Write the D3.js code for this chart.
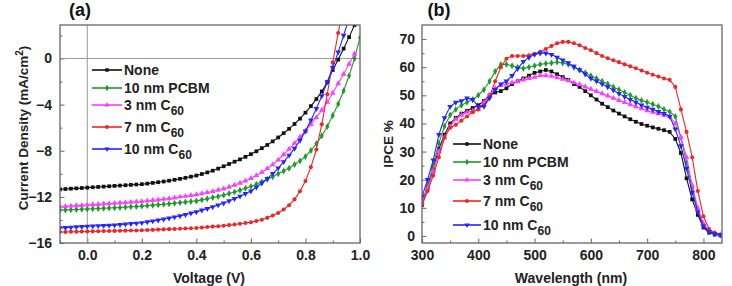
<!DOCTYPE html>
<html>
<head>
<meta charset="utf-8">
<script src="https://cdn.jsdelivr.net/npm/d3@7"></script>
<style>
    html, body { margin: 0; padding: 0; background: #fff; }
    #chart { width: 732px; height: 286px; }
</style>
</head>
<body>
<div id="chart"></div>
<script>
// ---- DATA ----

// Panel (a): J-V curves
const voltage = [-0.10,-0.08,-0.06,-0.04,-0.02,0.00,0.02,0.04,0.06,0.08,
    0.10,0.12,0.14,0.16,0.18,0.20,0.22,0.24,0.26,0.28,
    0.30,0.32,0.34,0.36,0.38,0.40,0.42,0.44,0.46,0.48,
    0.50,0.52,0.54,0.56,0.58,0.60,0.62,0.64,0.66,0.68,
    0.70,0.72,0.74,0.76,0.78,0.80,0.82,0.84,0.86,0.88,
    0.90,0.92,0.94,0.96,0.98,1.00];

const jNone = [-11.35,-11.32,-11.29,-11.26,-11.23,-11.20,-11.17,-11.14,-11.11,-11.08,
    -11.05,-11.02,-10.99,-10.96,-10.93,-10.90,-10.85,-10.79,-10.73,-10.67,
    -10.60,-10.52,-10.44,-10.35,-10.25,-10.15,-10.02,-9.88,-9.73,-9.55,
    -9.35,-9.15,-8.95,-8.75,-8.53,-8.30,-8.05,-7.78,-7.50,-7.19,
    -6.85,-6.48,-6.10,-5.68,-5.22,-4.70,-4.13,-3.52,-2.86,-2.05,
    -1.00,-0.10,0.85,1.85,2.90,3.90];

const jPCBM = [-13.15,-13.13,-13.11,-13.09,-13.07,-13.05,-13.03,-13.01,-12.99,-12.97,
    -12.95,-12.92,-12.89,-12.86,-12.83,-12.80,-12.76,-12.72,-12.68,-12.64,
    -12.60,-12.55,-12.50,-12.45,-12.40,-12.35,-12.26,-12.16,-12.06,-11.96,
    -11.85,-11.71,-11.57,-11.42,-11.26,-11.10,-10.90,-10.70,-10.48,-10.25,
    -10.00,-9.76,-9.52,-9.20,-8.88,-8.50,-7.98,-7.40,-6.70,-5.90,
    -4.95,-3.95,-2.80,-1.50,0.00,1.80];

const j3nm = [-12.85,-12.82,-12.79,-12.76,-12.73,-12.70,-12.67,-12.64,-12.61,-12.58,
    -12.55,-12.52,-12.49,-12.46,-12.43,-12.40,-12.35,-12.30,-12.25,-12.20,
    -12.15,-12.08,-12.01,-11.94,-11.87,-11.80,-11.71,-11.62,-11.52,-11.41,
    -11.30,-11.15,-10.98,-10.80,-10.61,-10.40,-10.14,-9.86,-9.55,-9.20,
    -8.80,-8.34,-7.86,-7.35,-6.82,-6.30,-5.72,-5.12,-4.48,-3.78,
    -3.00,-2.18,-1.35,-0.48,0.40];

const j7nm = [-15.05,-15.04,-15.03,-15.02,-15.01,-15.00,-14.99,-14.98,-14.97,-14.96,
    -14.95,-14.94,-14.93,-14.92,-14.91,-14.90,-14.88,-14.86,-14.84,-14.82,
    -14.80,-14.78,-14.76,-14.74,-14.72,-14.70,-14.66,-14.62,-14.58,-14.54,
    -14.50,-14.45,-14.39,-14.33,-14.27,-14.20,-14.10,-13.98,-13.82,-13.62,
    -13.40,-13.10,-12.72,-12.22,-11.52,-10.62,-9.42,-7.90,-5.70,-3.10,
    -0.35,2.20,4.60];

const j10nm = [-14.70,-14.67,-14.64,-14.61,-14.58,-14.55,-14.53,-14.51,-14.49,-14.47,
    -14.45,-14.41,-14.37,-14.33,-14.29,-14.25,-14.18,-14.10,-14.02,-13.94,
    -13.85,-13.75,-13.65,-13.54,-13.42,-13.30,-13.16,-13.02,-12.87,-12.71,
    -12.55,-12.36,-12.16,-11.95,-11.73,-11.50,-11.17,-10.82,-10.42,-9.98,
    -9.50,-8.96,-8.40,-7.80,-7.10,-6.30,-5.35,-4.35,-3.25,-2.05,
    -0.80,0.55,2.00,3.50];

// Panel (b): IPCE spectra
const wavelength = [300,310,320,330,340,350,360,370,380,390,
    400,410,420,430,440,450,460,470,480,490,
    500,510,520,530,540,550,560,570,580,590,
    600,610,620,630,640,650,660,670,680,690,
    700,710,720,730,740,750,760,770,780,790,
    800,810,820,830];

const ipceNone = [11,17,24,31,36,40,42,43.5,44.5,45.5,
    46.5,48,50,51,51.5,52.5,54,55,56,57,
    58,58.5,59,58.5,57.5,56.5,55.5,54,53,51.5,
    50,48.5,47,45.8,44.6,43.5,42.5,41.5,40.6,39.8,
    39.2,38.6,38.1,37.6,37,34.5,29.5,20.5,13,7.5,
    3,1.2,0.5,0.2];

const ipcePCBM = [12,18,25,33,39,43,45,46.5,47.5,48.5,
    50,52,55,58.5,61,61,60.5,60,59.5,60,
    60.5,61,61.3,61.5,61.8,61.5,61,60,59,58,
    57,56,55,54,53,52,51,50,49,48.2,
    47.5,46.8,46,45,44.2,42.5,35,26,17,9,
    4,1.5,0.8,0.3];

const ipce3nm = [12,17,23,30,35,39,41.5,43,44,44.5,
    45,47.5,50,52.5,53.5,54,54.5,55,55.5,56,
    56.5,57,57,56.8,56.3,55.8,55.2,54.5,53.8,53,
    52.2,51.4,50.6,49.8,49,48.2,47.5,46.7,46,45.3,
    44.6,44,43.5,43,42.5,40,35,28,18,10,
    4.5,2,1,0.5];

const ipce7nm = [11,16,21.5,28,35,38.5,39.5,41,42.5,44,
    45,46.5,49.5,55,60,63,64,64,64,64.2,
    64.8,65.5,66.5,67.5,68.5,69,69,68.5,67.8,66.8,
    66,65,64,63.2,62.5,61.8,61,60.3,59.6,58.8,
    58,57.3,56.7,56,55.5,53,45,37,28,16,
    7,2.5,1,0.3];

const ipce10nm = [14,20,27,36,42,46,47.5,48,49,48.5,
    46,46,49,52,54,55,57,59.5,62,63.5,
    64.5,65,65,64.5,63.5,62.5,61.5,60.3,59,57.5,
    56,55,54,53,51.8,50.6,49.5,48.5,47.5,46.5,
    45.7,45,44.2,43.5,42.5,38,32,24,15.5,8.5,
    3.5,1.5,0.8,0.5];

// legend labels (main text + subscript)
const seriesNames = ["None", "10 nm PCBM", "3 nm C", "7 nm C", "10 nm C"];
const seriesSubs = ["", "", "60", "60", "60"];

// tick values
const jvTicksX = [0.0, 0.2, 0.4, 0.6, 0.8, 1.0];
const jvTicksY = [-16, -12, -8, -4, 0];
const ipceTicksX = [300, 400, 500, 600, 700, 800];
const ipceTicksY = [0, 10, 20, 30, 40, 50, 60, 70];

// ---- STYLES ----
const colors = ["#111111", "#1f9a2a", "#ff3cff", "#f02525", "#2424ff"];
const shapes = [d3.symbolSquare, d3.symbolDiamond, d3.symbolTriangle, d3.symbolCircle, d3.symbolTriangle];
const shapeRot = [0, 0, 0, 0, 180];
const FONT = "Arial, 'Liberation Sans', sans-serif";

const drawChart = () => {
    const svg = d3.select("#chart").append("svg")
        .attr("width", 732)
        .attr("height", 286)
        .style("font-family", FONT)
        .style("font-weight", "bold");

    // 1. Generic panel builder
    const panel = (opt) => {
        const x = d3.scaleLinear().domain(opt.xDomain).range([opt.left, opt.right]);
        const y = d3.scaleLinear().domain(opt.yDomain).range([opt.bottom, opt.top]);
        const g = svg.append("g");

        const clipId = "clip-" + opt.id;
        svg.append("clipPath").attr("id", clipId)
            .append("rect")
            .attr("x", opt.left).attr("y", opt.top)
            .attr("width", opt.right - opt.left).attr("height", opt.bottom - opt.top);

        // minor ticks
        g.append("g")
            .attr("transform", `translate(0,${opt.bottom})`)
            .call(d3.axisBottom(x).tickValues(opt.xMinor).tickSize(-2.5).tickFormat(""))
            .call(a => a.select(".domain").remove())
            .call(a => a.selectAll("line").attr("stroke", "#666"));
        g.append("g")
            .attr("transform", `translate(${opt.left},0)`)
            .call(d3.axisLeft(y).tickValues(opt.yMinor).tickSize(-2.5).tickFormat(""))
            .call(a => a.select(".domain").remove())
            .call(a => a.selectAll("line").attr("stroke", "#666"));

        // major ticks + labels
        g.append("g")
            .attr("transform", `translate(0,${opt.bottom})`)
            .call(d3.axisBottom(x).tickValues(opt.xTicks).tickSize(-4.5).tickPadding(7).tickFormat(opt.xFormat))
            .call(a => a.select(".domain").remove())
            .call(a => a.selectAll("line").attr("stroke", "#666"))
            .call(a => a.selectAll("text").attr("fill", "#222")
                .style("font-size", "14px").style("font-family", FONT).style("font-weight", "bold"));
        g.append("g")
            .attr("transform", `translate(${opt.left},0)`)
            .call(d3.axisLeft(y).tickValues(opt.yTicks).tickSize(-4.5).tickPadding(opt.yPad).tickFormat(d3.format("d")))
            .call(a => a.select(".domain").remove())
            .call(a => a.selectAll("line").attr("stroke", "#666"))
            .call(a => a.selectAll("text").attr("fill", "#222")
                .style("font-size", "14px").style("font-family", FONT).style("font-weight", "bold"));

        // extra reference lines (zero lines)
        if (opt.zeroLines) {
            g.append("line")
                .attr("x1", opt.left).attr("x2", opt.right)
                .attr("y1", y(0)).attr("y2", y(0))
                .attr("stroke", "#999").attr("stroke-width", 1);
            g.append("line")
                .attr("x1", x(0)).attr("x2", x(0))
                .attr("y1", opt.top).attr("y2", opt.bottom)
                .attr("stroke", "#999").attr("stroke-width", 1);
        }

        // curves
        const plot = g.append("g").attr("clip-path", `url(#${clipId})`);
        const line = d3.line().x(d => x(d[0])).y(d => y(d[1]));
        opt.series.forEach((vals, i) => {
            const pts = vals.map((v, k) => [opt.xs[k], v]);
            plot.append("path")
                .datum(pts)
                .attr("fill", "none")
                .attr("stroke", colors[i])
                .attr("stroke-width", 1.1)
                .attr("d", line);
            plot.append("g")
                .selectAll("path")
                .data(pts)
                .join("path")
                .attr("d", d3.symbol().type(shapes[i]).size(i === 3 ? 13 : 14))
                .attr("transform", d => `translate(${x(d[0])},${y(d[1])}) rotate(${shapeRot[i]})`)
                .attr("fill", colors[i]);
        });

        // frame
        g.append("rect")
            .attr("x", opt.left).attr("y", opt.top)
            .attr("width", opt.right - opt.left).attr("height", opt.bottom - opt.top)
            .attr("fill", "none").attr("stroke", "#666").attr("stroke-width", 1.3);

        // legend
        const lg = g.append("g");
        opt.legendRows.forEach((ry, i) => {
            lg.append("line")
                .attr("x1", opt.legendX[0]).attr("x2", opt.legendX[1])
                .attr("y1", ry).attr("y2", ry)
                .attr("stroke", colors[i]).attr("stroke-width", 1.6);
            lg.append("path")
                .attr("d", d3.symbol().type(shapes[i]).size(12))
                .attr("transform", `translate(${(opt.legendX[0] + opt.legendX[1]) / 2},${ry}) rotate(${shapeRot[i]})`)
                .attr("fill", colors[i]);
            const t = lg.append("text")
                .attr("x", opt.legendX[1] + 2)
                .attr("y", ry + 5)
                .style("font-size", "14px")
                .attr("fill", "#222");
            t.append("tspan").text(seriesNames[i]);
            if (seriesSubs[i]) {
                t.append("tspan").attr("dy", 5).style("font-size", "12px").text(seriesSubs[i]);
            }
        });

        // panel letter
        svg.append("text")
            .attr("x", opt.letterX).attr("y", 16)
            .attr("text-anchor", "middle")
            .style("font-size", "18px")
            .attr("fill", "#111")
            .text(opt.letter);

        // x title
        svg.append("text")
            .attr("x", (opt.left + opt.right) / 2 + opt.xTitleShift).attr("y", 283)
            .attr("text-anchor", "middle")
            .style("font-size", "14px")
            .attr("fill", "#222")
            .text(opt.xTitle);
    };

    // 2. Panel (a)
    panel({
        id: "a", letter: "(a)", letterX: 80,
        left: 60, right: 360, top: 25, bottom: 243,
        xDomain: [-0.1, 1.0], yDomain: [-16, 2.9],
        xTicks: jvTicksX, yTicks: jvTicksY,
        xMinor: [-0.1, 0.1, 0.3, 0.5, 0.7, 0.9], yMinor: [-14, -10, -6, -2, 2],
        xFormat: d3.format(".1f"), yPad: 8,
        xs: voltage, series: [jNone, jPCBM, j3nm, j7nm, j10nm],
        zeroLines: true,
        legendX: [92, 122], legendRows: [70, 88, 105, 127, 149],
        xTitle: "Voltage (V)", xTitleShift: -1
    });

    // 3. Panel (b)
    panel({
        id: "b", letter: "(b)", letterX: 439,
        left: 422, right: 722, top: 25, bottom: 243,
        xDomain: [300, 833], yDomain: [-2.5, 75],
        xTicks: ipceTicksX, yTicks: ipceTicksY,
        xMinor: [350, 450, 550, 650, 750], yMinor: [5, 15, 25, 35, 45, 55, 65],
        xFormat: d3.format("d"), yPad: 7,
        xs: wavelength, series: [ipceNone, ipcePCBM, ipce3nm, ipce7nm, ipce10nm],
        zeroLines: false,
        legendX: [453, 481], legendRows: [144, 162, 180, 201, 225],
        xTitle: "Wavelength (nm)", xTitleShift: -1
    });

    // 4. Rotated y titles
    const ya = svg.append("text")
        .attr("transform", "translate(28,128) rotate(-90)")
        .attr("text-anchor", "middle")
        .style("font-size", "13.5px")
        .attr("fill", "#222");
    ya.append("tspan").text("Current Density (mA/cm");
    ya.append("tspan").attr("dy", -5).style("font-size", "10px").text("2");
    ya.append("tspan").attr("dy", 5).text(")");

    svg.append("text")
        .attr("transform", "translate(393,144) rotate(-90)")
        .attr("text-anchor", "middle")
        .style("font-size", "13.5px")
        .attr("fill", "#222")
        .text("IPCE %");
};

document.addEventListener("DOMContentLoaded", drawChart);
</script>
</body>
</html>
